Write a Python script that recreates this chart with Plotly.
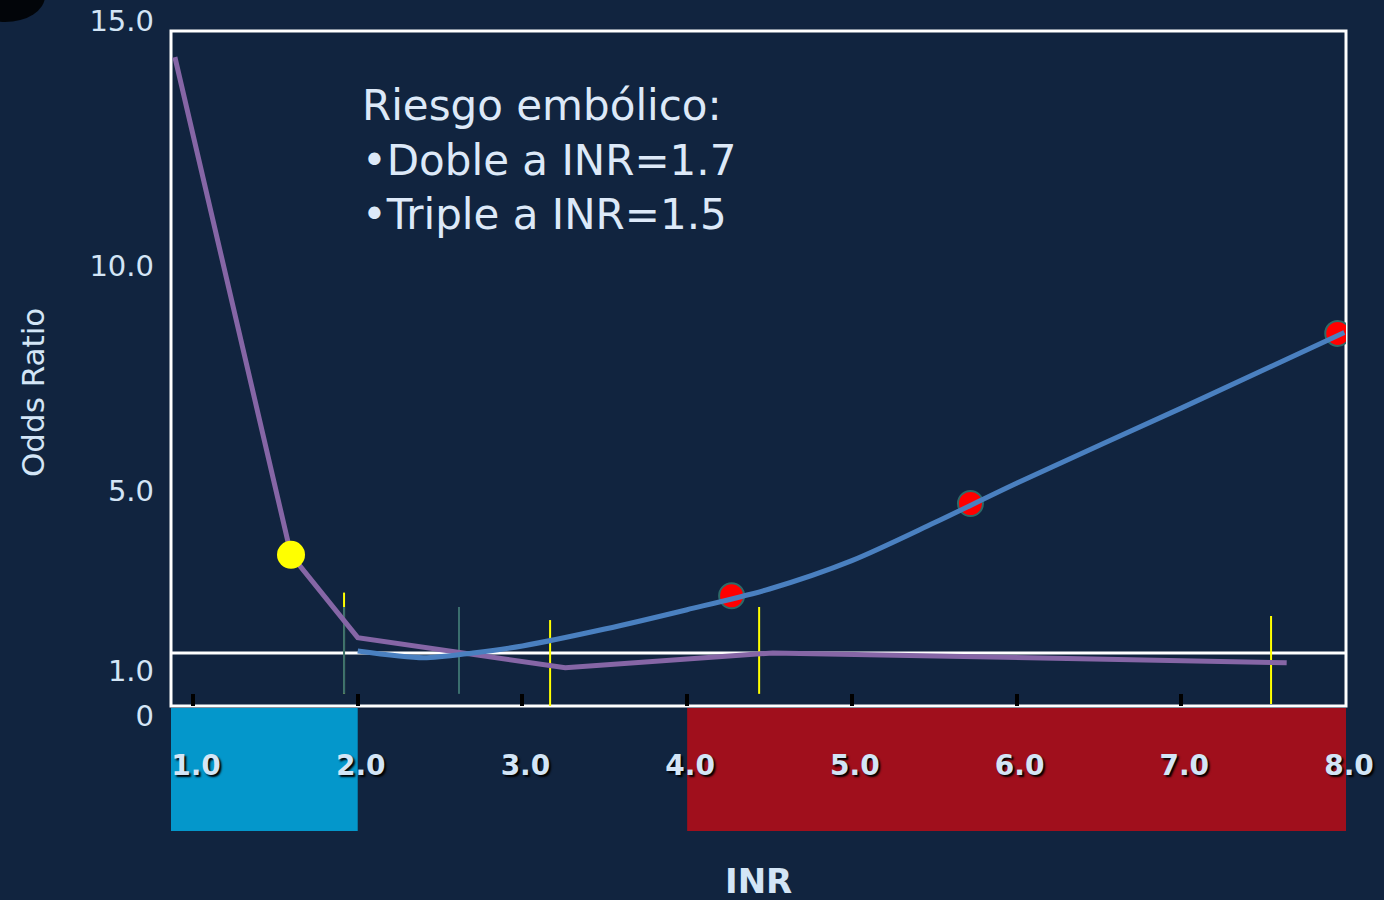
import plotly.graph_objects as go

# INR axis ticks
inr_ticks = [1, 2, 3, 4, 5, 6, 7, 8]
inr_tick_labels = ["1.0", "2.0", "3.0", "4.0", "5.0", "6.0", "7.0", "8.0"]
or_ticks = [0, 1, 5, 10, 15]
or_tick_labels = ["0", "1.0", "5.0", "10.0", "15.0"]

# Embolic risk curve (purple)
emb_inr = [0.89, 1.595, 2.0, 3.26, 4.52, 7.64]
emb_or = [14.42, 3.36, 1.52, 0.85, 1.18, 0.96]

# Haemorrhagic risk curve (blue)
hem_inr = [2.0, 2.4, 2.7, 3.0, 3.5, 4.0, 4.5, 5.0, 5.5, 6.0, 7.0, 7.99]
hem_or = [1.22, 1.07, 1.18, 1.335, 1.71, 2.14, 2.60, 3.23, 4.07, 4.95, 6.62, 8.30]

# Highlighted points
yellow_inr = [1.595]
yellow_or = [3.36]
red_inr = [4.27, 5.72, 7.95]
red_or = [2.45, 4.50, 8.28]

# Vertical interval markers (x, low, high)
teal_marks = [(1.917, 0.27, 2.20), (2.615, 0.27, 2.20)]
yellow_marks = [(1.917, 0.27, 2.52), (3.168, 0.0, 1.91), (4.437, 0.27, 2.20), (7.545, 0.045, 2.00)]

# Reference line and INR zones
ref_or = 1.18
x_min, x_max = 0.8664, 8.0
y_min, y_max = 0, 15
low_zone = (x_min, 2.0)
high_zone = (4.0, 8.0)

BG = "#11243f"
TXT = "#d3e5f6"
FONT = "DejaVu Sans"


def seg(marks):
    xs, ys = [], []
    for x, lo, hi in marks:
        xs += [x, x, None]
        ys += [lo, hi, None]
    return xs, ys


fig = go.Figure()

yx, yy = seg(yellow_marks)
fig.add_trace(go.Scatter(x=yx, y=yy, mode="lines", line=dict(color="#ffff00", width=2),
                         hoverinfo="skip", showlegend=False))
tx, ty = seg(teal_marks)
fig.add_trace(go.Scatter(x=tx, y=ty, mode="lines", line=dict(color="#3a6e6e", width=2),
                         hoverinfo="skip", showlegend=False))

fig.add_trace(go.Scatter(x=emb_inr, y=emb_or, mode="lines",
                         line=dict(color="#8666a6", width=5), showlegend=False))
fig.add_trace(go.Scatter(x=yellow_inr, y=yellow_or, mode="markers",
                         marker=dict(color="#ffff00", size=28, line=dict(width=0)),
                         showlegend=False))
fig.add_trace(go.Scatter(x=red_inr, y=red_or, mode="markers",
                         marker=dict(color="#ff0000", size=25, line=dict(color="#2d6a68", width=2)),
                         showlegend=False))
# the blue curve sits on the overlaid y axis (same range), drawn on top of everything
fig.add_trace(go.Scatter(x=hem_inr, y=hem_or, mode="lines", yaxis="y2",
                         line=dict(color="#4a80c0", width=5, shape="spline", smoothing=0.8),
                         showlegend=False))

shapes = [
    dict(type="rect", xref="x", yref="paper", x0=low_zone[0], x1=low_zone[1],
         y0=-0.1852, y1=-0.003, fillcolor="#0497cb", line=dict(width=0), layer="below"),
    dict(type="rect", xref="x", yref="paper", x0=high_zone[0], x1=high_zone[1],
         y0=-0.1852, y1=-0.003, fillcolor="#a00f1c", line=dict(width=0), layer="below"),
    dict(type="line", xref="paper", yref="y", x0=0, x1=1, y0=ref_or, y1=ref_or,
         line=dict(color="#ffffff", width=3), layer="below"),
    dict(type="rect", xref="paper", yref="paper", x0=0, x1=1, y0=0, y1=1,
         line=dict(color="#ffffff", width=3), layer="below"),
    # dark corner decoration at the top left
    dict(type="circle", xref="paper", yref="paper", x0=-0.1753, x1=-0.1072,
         y0=1.0133, y1=1.0904, fillcolor="#000000", opacity=0.85,
         line=dict(width=0), layer="below"),
]

annotations = [
    dict(text="Riesgo embólico:<br>•Doble a INR=1.7<br>•Triple a INR=1.5",
         x=2.015, y=12.13, xref="x", yref="y", xanchor="left", yanchor="middle",
         align="left", showarrow=False, font=dict(family=FONT, size=42, color="#dde9f8")),
    dict(text="Odds Ratio", x=-0.1174, y=0.4637, xref="paper", yref="paper",
         textangle=-90, showarrow=False, xanchor="center", yanchor="middle",
         font=dict(family=FONT, size=31, color=TXT)),
    dict(text="<b>INR</b>", x=0.5, y=-0.259, xref="paper", yref="paper",
         showarrow=False, xanchor="center", yanchor="middle",
         font=dict(family=FONT, size=34, color=TXT)),
]

y_tick_font = dict(family=FONT, size=29, color=TXT)

fig.update_layout(
    width=1384, height=900,
    margin=dict(l=171, r=38, t=31, b=194, pad=0, autoexpand=False),
    paper_bgcolor=BG, plot_bgcolor=BG,
    shapes=shapes, annotations=annotations,
    showlegend=False,
    xaxis=dict(range=[x_min, x_max], tickvals=inr_ticks, ticktext=inr_tick_labels,
               ticks="inside", ticklen=12, tickwidth=4, tickcolor="#000000",
               showgrid=False, zeroline=False, showline=False, automargin=False,
               ticklabelstandoff=40, ticklabelshift=3,
               tickfont=dict(family=FONT, size=28, color=TXT, weight="bold",
                             shadow="2px 2px 2px #000000")),
    # lower ticks sit a little below their value, the top one a little above the frame
    yaxis=dict(range=[y_min, y_max], tickvals=or_ticks[:-1], ticktext=or_tick_labels[:-1],
               ticks="", showgrid=False, zeroline=False, showline=False, automargin=False,
               ticklabelstandoff=16, ticklabelshift=10, tickfont=y_tick_font),
    yaxis2=dict(range=[y_min, y_max], overlaying="y", anchor="x", side="left",
                tickvals=or_ticks[-1:], ticktext=or_tick_labels[-1:],
                ticks="", showgrid=False, zeroline=False, showline=False, automargin=False,
                ticklabelstandoff=16, ticklabelshift=-10, tickfont=y_tick_font),
)

fig.write_html("out.html")
